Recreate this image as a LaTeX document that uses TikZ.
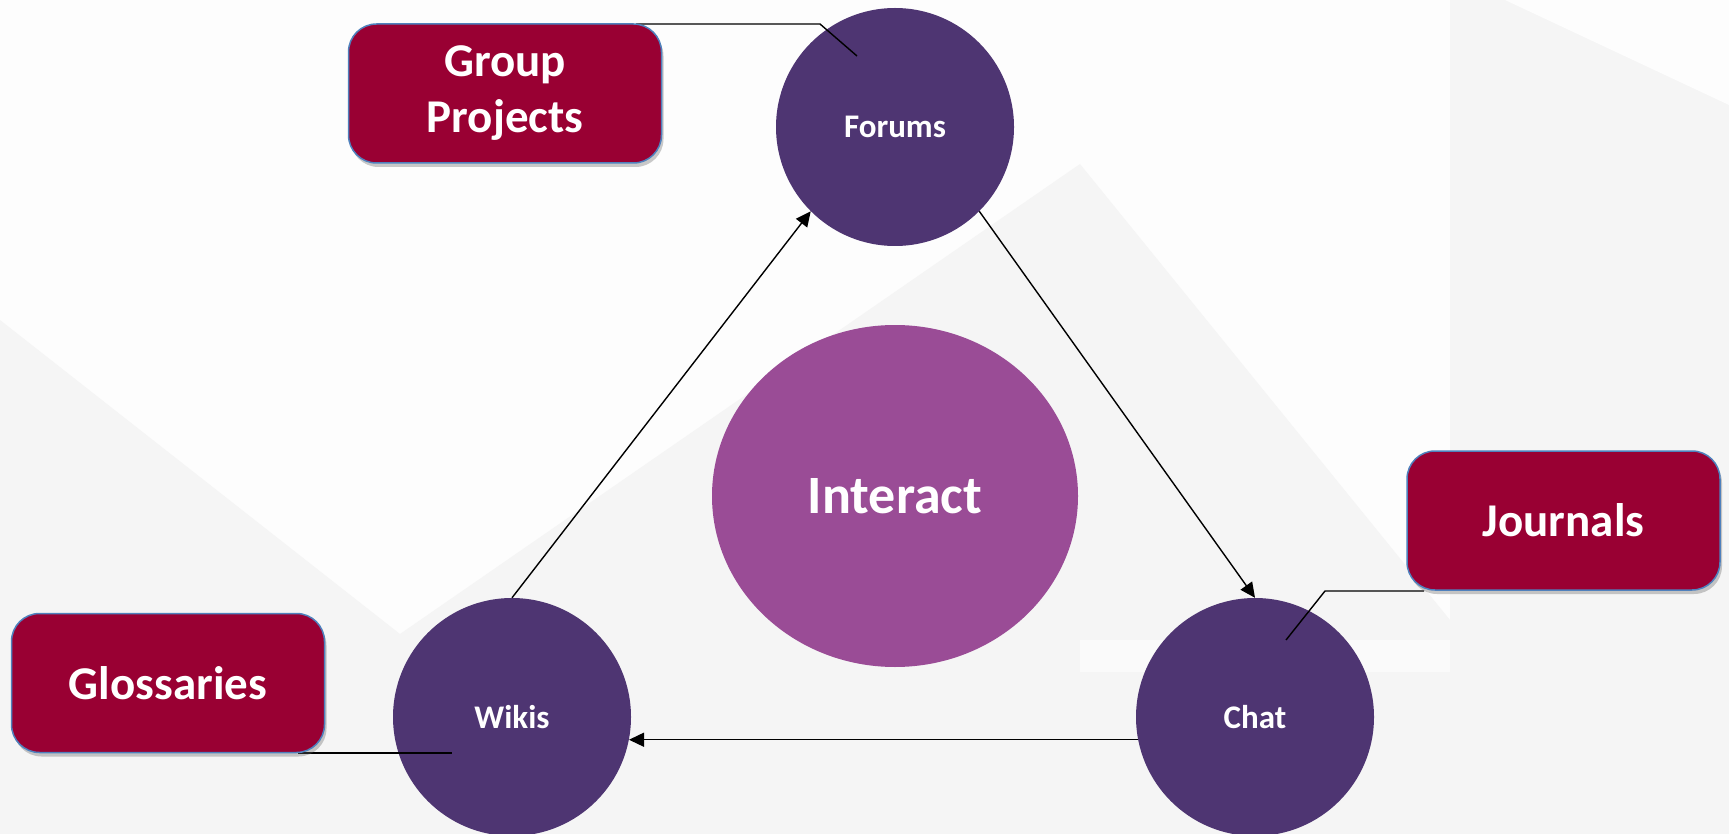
\documentclass[tikz,border=0pt]{standalone}
\usepackage{fontspec}
\setmainfont{Carlito}
\usetikzlibrary{shapes.geometric,shadows,arrows.meta}
\definecolor{bggray}{HTML}{F5F5F5}
\definecolor{bgwhite}{HTML}{FDFDFD}
\definecolor{circ}{HTML}{4E3572}
\definecolor{ell}{HTML}{9A4C96}
\definecolor{boxred}{HTML}{990033}
\definecolor{boxedge}{HTML}{4F81BD}
\tikzset{
  hub/.style={circle, fill=circ, draw=none, minimum size=238pt, inner sep=0pt,
    text=white, font=\bfseries\fontsize{33}{38}\selectfont},
  centre/.style={ellipse, fill=ell, draw=none, minimum width=366pt, minimum height=342pt,
    inner sep=0pt, text=white, font=\bfseries\fontsize{54}{60}\selectfont},
  tool/.style={rectangle, rounded corners=28pt, fill=boxred, draw=boxedge, line width=1.5pt,
    minimum width=313pt, minimum height=139pt, inner sep=0pt, text=white, align=center,
    font=\bfseries\fontsize{47}{56}\selectfont,
    drop shadow={shadow xshift=2pt, shadow yshift=-4pt, opacity=0.35, fill=black!60}},
  flow/.style={line width=1.4pt, -{Triangle[length=15pt,width=14pt]}},
  link/.style={line width=1.4pt}
}
\begin{document}
\begin{tikzpicture}[x=1pt,y=-1pt]
\useasboundingbox (0,0) rectangle (1729,834);
% background
\fill[bgwhite] (0,0) rectangle (1729,834);
\fill[bggray] (0,320) -- (400,634) -- (1080,164) -- (1450,620) -- (1729,620) -- (1729,834) -- (0,834) -- cycle;
\fill[bggray] (1450,0) -- (1729,0) -- (1729,620) -- (1450,620) -- cycle;
\fill[bgwhite] (1505,0) -- (1729,0) -- (1729,105) -- cycle;
\fill[bgwhite!60!bggray] (1080,640) rectangle (1450,672);

% circles
\node[hub] (fo) at (895,127) {Forums};
\node[hub] (wk) at (512,717) {Wikis};
\node[hub] (ch) at (1255,717) {Chat};
\node[centre] (in) at (895,496) {Interact};

% arrows
\draw[flow] (wk.north) -- (fo.225);
\draw[flow] (fo.-45) -- (ch.north);
\draw[flow] (ch.191) -- (wk.349);

% tool connectors
\coordinate (gpstart) at (636,24);
\coordinate (gpbend) at (820,24);
\coordinate (gpend) at (857,56);
\coordinate (jrstart) at (1424,591);
\coordinate (jrbend) at (1325,591);
\coordinate (jrend) at (1286,640);
\coordinate (glstart) at (298,753);
\coordinate (glend) at (452,753);
\draw[link] (gpstart) -- (gpbend) -- (gpend);
\draw[link] (jrstart) -- (jrbend) -- (jrend);
\draw[link] (glstart) -- (glend);

\node[tool] (gp) at (505,93.5) {Group\\Projects};
\node[tool] (jr) at (1563.5,520.5) {Journals};
\node[tool] (gl) at (168,683) {Glossaries};
\end{tikzpicture}
\end{document}
